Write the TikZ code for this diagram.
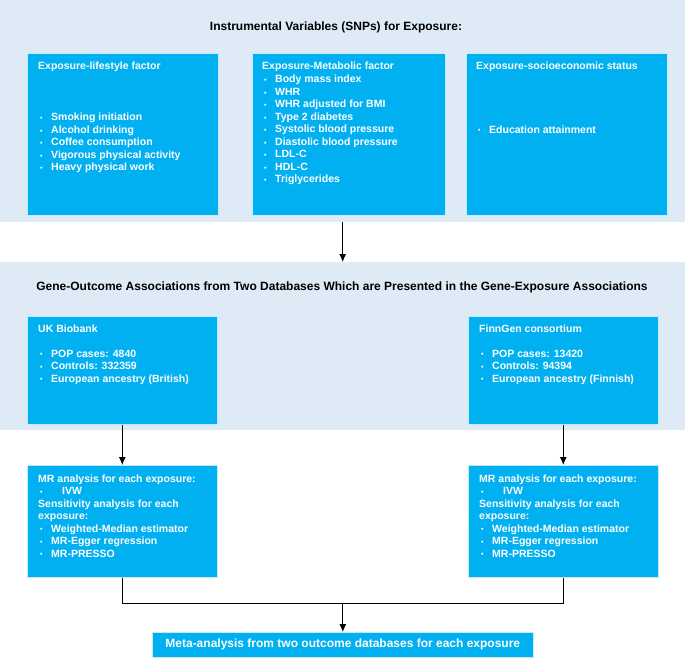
\documentclass[tikz,border=0pt]{standalone}
\usepackage{fontspec}
\setmainfont{Liberation Sans}
\usetikzlibrary{arrows.meta}
\definecolor{panel}{RGB}{222,234,246}
\definecolor{boxc}{RGB}{0,176,240}
\newcommand{\bl}{\hspace{2pt}\makebox[11pt][l]{\raisebox{0.3pt}{\scriptsize\textbullet}}}
\newcommand{\lst}[1]{\begin{tabular}[t]{@{}l@{}}#1\end{tabular}}
\tikzset{
 panelbox/.style={fill=panel, draw=none, inner sep=0, anchor=north west},
 bluebox/.style={fill=boxc, draw=white!75!boxc, line width=0.6pt, inner sep=0, anchor=north west},
 wtxt/.style={text=white, font=\bfseries\fontsize{10.5}{12.5}\selectfont, inner sep=0, anchor=base west},
 ttl/.style={text=black, font=\bfseries\fontsize{12}{14}\selectfont, inner sep=0},
 arr/.style={-{Latex[length=8pt,width=7pt]}, line width=1pt},
 conn/.style={line width=1pt}
}
\begin{document}
\begin{tikzpicture}[x=1pt,y=-1pt]
\useasboundingbox[fill=white] (0,0) rectangle (685,658);
% panels
\node[panelbox, minimum width=685pt, minimum height=222pt] (p1) at (0,0) {};
\node[panelbox, minimum width=685pt, minimum height=168pt] (p2) at (0,262) {};
% titles
\node[ttl] (t1) at (336,27) {Instrumental Variables (SNPs) for Exposure:};
\node[ttl] (t2) at (342,287) {Gene-Outcome Associations from Two Databases Which are Presented in the Gene-Exposure Associations};
% top boxes
\node[bluebox, minimum width=191pt, minimum height=162pt] (b1) at (27,53) {};
\node[bluebox, minimum width=193pt, minimum height=162pt] (b2) at (252,53) {};
\node[bluebox, minimum width=201pt, minimum height=162pt] (b3) at (466,53) {};
\node[wtxt] (b1h) at (38,70) {Exposure-lifestyle factor};
\node[wtxt] (b1l) at (38,121) {\lst{\bl Smoking initiation\\ \bl Alcohol drinking\\ \bl Coffee consumption\\ \bl Vigorous physical activity\\ \bl Heavy physical work}};
\node[wtxt] (b2h) at (262,70) {Exposure-Metabolic factor};
\node[wtxt] (b2l) at (262,83) {\lst{\bl Body mass index\\ \bl WHR\\ \bl WHR adjusted for BMI\\ \bl Type 2 diabetes\\ \bl Systolic blood pressure\\ \bl Diastolic blood pressure\\ \bl LDL-C\\ \bl HDL-C\\ \bl Triglycerides}};
\node[wtxt] (b3h) at (476,70) {Exposure-socioeconomic status};
\node[wtxt] (b3l) at (476,133) {\lst{\bl Education attainment}};
% database boxes
\node[bluebox, minimum width=190pt, minimum height=108pt] (uk) at (27,316) {};
\node[bluebox, minimum width=190pt, minimum height=108pt] (fg) at (468,316) {};
\node[wtxt] (ukh) at (38,332) {UK Biobank};
\node[wtxt] (ukl) at (38,357) {\lst{\bl POP cases: 4840\\ \bl Controls: 332359\\ \bl European ancestry (British)}};
\node[wtxt] (fgh) at (479,332) {FinnGen consortium};
\node[wtxt] (fgl) at (479,357) {\lst{\bl POP cases: 13420\\ \bl Controls: 94394\\ \bl European ancestry (Finnish)}};
% MR boxes
\node[bluebox, minimum width=190pt, minimum height=112pt] (mr1) at (27,465) {};
\node[bluebox, minimum width=190pt, minimum height=112pt] (mr2) at (468,465) {};
\node[wtxt] (mr1t) at (38,482) {\lst{MR analysis for each exposure:\\ \bl\hspace{11pt}IVW\\ Sensitivity analysis for each\\ exposure:\\ \bl Weighted-Median estimator\\ \bl MR-Egger regression\\ \bl MR-PRESSO}};
\node[wtxt] (mr2t) at (479,482) {\lst{MR analysis for each exposure:\\ \bl\hspace{11pt}IVW\\ Sensitivity analysis for each\\ exposure:\\ \bl Weighted-Median estimator\\ \bl MR-Egger regression\\ \bl MR-PRESSO}};
% meta box
\node[bluebox, minimum width=381pt, minimum height=25pt] (meta) at (152,632) {};
\node[text=white, font=\bfseries\fontsize{12}{14}\selectfont, inner sep=0] (metat) at (meta.center) {Meta-analysis from two outcome databases for each exposure};
% connectors
\draw[arr] (p1.south) -- (p2.north);
\draw[arr] (uk.south) -- (mr1.north);
\draw[arr] (fg.south) -- (mr2.north);
\coordinate (j) at (meta.north |- 0,603.5);
\draw[conn] (mr1.south) |- (j) -| (mr2.south);
\draw[arr] (j) -- (meta.north);
\end{tikzpicture}
\end{document}
